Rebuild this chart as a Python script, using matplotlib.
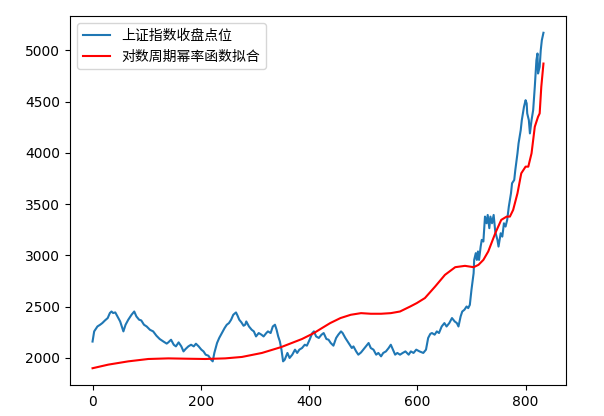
import matplotlib
matplotlib.use("Agg")
import matplotlib.pyplot as plt

plt.rcParams['font.family'] = ['DejaVu Sans', 'Noto Sans CJK SC']

# 上证指数收盘点位 (交易日序号, 点位)
close_idx = [0, 3, 5, 9, 14, 18, 23, 28, 32, 35, 38, 42, 46, 51, 54, 57, 61, 66, 72, 77,
             81, 86, 90, 95, 100, 106, 112, 118, 124, 131, 137, 140, 145, 150, 154, 159, 164, 168, 172, 177,
             182, 187, 191, 196, 201, 205, 209, 214, 219, 222, 225, 230, 234, 239, 244, 248, 252, 256, 260, 265,
             268, 271, 275, 279, 282, 284, 289, 294, 298, 302, 307, 312, 316, 321, 324, 329, 333, 337, 340, 343,
             346, 349, 352, 355, 360, 364, 369, 374, 378, 382, 387, 392, 396, 401, 406, 409, 413, 418, 423, 427,
             432, 436, 440, 445, 450, 454, 459, 462, 467, 471, 475, 479, 482, 487, 491, 496, 500, 505, 510, 514,
             519, 524, 528, 533, 537, 542, 547, 551, 555, 559, 563, 568, 573, 578, 584, 588, 593, 598, 604, 611,
             616, 620, 624, 627, 632, 636, 640, 645, 650, 654, 659, 664, 669, 673, 676, 680, 683, 687, 691, 694,
             697, 700, 704, 705, 708, 710, 712, 714, 717, 719, 722, 725, 728, 730, 733, 735, 738, 741, 744, 748,
             750, 754, 757, 760, 763, 766, 769, 773, 775, 779, 781, 785, 787, 791, 793, 797, 800, 802, 803, 806,
             808, 811, 814, 817, 820, 822, 823, 826, 828, 830, 833]
close_val = [2160, 2259, 2275, 2307, 2324, 2340, 2366, 2389, 2438, 2453, 2438, 2444, 2405, 2356, 2307, 2259, 2324, 2373, 2421, 2453,
             2405, 2373, 2366, 2324, 2307, 2275, 2259, 2217, 2185, 2160, 2140, 2152, 2178, 2129, 2113, 2152, 2113, 2064, 2088, 2113,
             2129, 2113, 2139, 2113, 2081, 2064, 2032, 2022, 1983, 1967, 2049, 2146, 2195, 2243, 2292, 2324, 2340, 2373, 2421, 2444,
             2411, 2373, 2347, 2314, 2324, 2356, 2307, 2275, 2259, 2210, 2243, 2227, 2210, 2243, 2259, 2243, 2307, 2324, 2275, 2210,
             2162, 2081, 1967, 1983, 2049, 2000, 2032, 2081, 2049, 2081, 2097, 2129, 2120, 2178, 2243, 2259, 2210, 2195, 2227, 2243,
             2185, 2178, 2146, 2120, 2195, 2227, 2259, 2243, 2195, 2162, 2129, 2097, 2113, 2064, 2032, 2054, 2081, 2113, 2146, 2097,
             2081, 2032, 2049, 2016, 2049, 2064, 2097, 2129, 2081, 2032, 2049, 2032, 2049, 2064, 2032, 2064, 2049, 2081, 2064, 2049,
             2081, 2195, 2235, 2243, 2227, 2259, 2243, 2307, 2340, 2307, 2340, 2389, 2356, 2340, 2307, 2405, 2453, 2470, 2502, 2486,
             2518, 2664, 2827, 2956, 3022, 2956, 3038, 2956, 3086, 3151, 3135, 3378, 3313, 3394, 3265, 3378, 3313, 3394, 3230, 3151,
             3086, 3216, 3183, 3313, 3281, 3346, 3475, 3605, 3703, 3735, 3832, 3995, 4092, 4221, 4318, 4448, 4513, 4481, 4384, 4318,
             4189, 4318, 4416, 4643, 4903, 4968, 4773, 4838, 5000, 5097, 5170]

# 对数周期幂率函数拟合值
fit_idx = [0, 29, 66, 103, 140, 171, 208, 245, 276, 313, 349, 387, 409, 424, 439, 458, 477, 496, 514, 533,
           551, 568, 587, 599, 614, 633, 651, 670, 688, 704, 713, 722, 731, 744, 755, 765, 771, 777, 785, 792,
           800, 805, 811, 817, 823, 826, 829, 833]
fit_val = [1900, 1935, 1967, 1990, 1996, 1993, 1990, 1996, 2010, 2049, 2107, 2185, 2243, 2292, 2340, 2389, 2421, 2437, 2431, 2431,
           2437, 2453, 2502, 2535, 2584, 2697, 2810, 2885, 2898, 2885, 2908, 2956, 3038, 3216, 3346, 3378, 3378, 3443, 3605, 3800,
           3865, 3865, 3995, 4254, 4351, 4384, 4643, 4870]

fig = plt.figure(figsize=(6.04, 4.16), dpi=100)
ax = fig.add_axes([70 / 604, 31 / 416, 496 / 604, 369 / 416])

ax.plot(close_idx, close_val, label='上证指数收盘点位')
ax.plot(fit_idx, fit_val, color='red', label='对数周期幂率函数拟合')
ax.legend(loc='upper left')

fig.savefig('out.png', dpi=100)
